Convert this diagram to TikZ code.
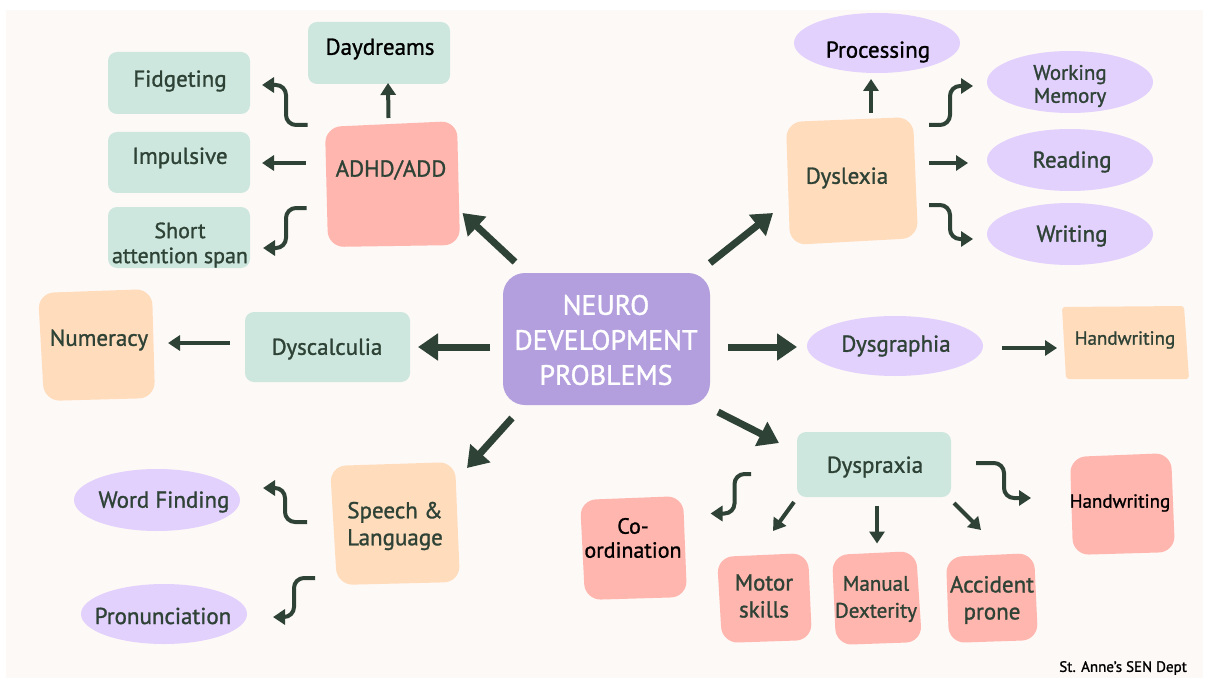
\documentclass[tikz,border=0pt]{standalone}
\usepackage{fontspec}
\setmainfont{PT Sans}[FakeBold=1.2]
\usetikzlibrary{arrows.meta,calc,shapes.geometric,fit}
\definecolor{bgc}{HTML}{FDF9F6}
\definecolor{mint}{HTML}{CDE7DF}
\definecolor{salm}{HTML}{FFB6AE}
\definecolor{peach}{HTML}{FFDCBC}
\definecolor{lav}{HTML}{E2D0FD}
\definecolor{cpur}{HTML}{B39FDD}
\definecolor{ink}{HTML}{2E4236}
% invisible named box + hand-drawn fill through four corners
\newcommand\wobbox[6]{%
  \fill[#2, rounded corners=16pt] #3 -- #4 -- #5 -- #6 -- cycle;
  \node[inner sep=0pt, fit={#3 #4 #5 #6}] (#1) {};}
\begin{document}
\begin{tikzpicture}[x=1pt,y=-1pt,
  mintbox/.style={fill=mint, rounded corners=9pt, inner sep=0pt},
  lavell/.style={fill=lav, ellipse, inner sep=0pt},
  lbl/.style={inner sep=0pt, text=ink, align=center, font=\fontsize{23}{26}\selectfont},
  bigarr/.style={draw=ink, line width=7pt, -{Triangle[length=20pt,width=26pt]}},
  smarr/.style={draw=ink, line width=4pt, rounded corners=10pt, -{Triangle[length=12pt,width=15pt]}}
]
\useasboundingbox (0,0) rectangle (1209,679);
\fill[white] (0,0) rectangle (1209,679);
\fill[bgc] (6,10) rectangle (1203,678);

% ---------- centre ----------
\node[fill=cpur, rounded corners=22pt, minimum width=207pt, minimum height=132pt] (cnt) at (606.5,339) {};
\node[lbl, text=white, font=\fontsize{28}{35}\selectfont] (cntt) at (606,340) {NEURO\\DEVELOPMENT\\PROBLEMS};

% ---------- ADHD ----------
\wobbox{adhd}{salm}{(325,127)}{(457,121)}{(460,245)}{(328,247)}
\node[lbl] (adhdt) at (391,170) {ADHD/ADD};
\node[mintbox, minimum width=142pt, minimum height=62pt] (day) at (379,53) {};
\node[lbl, text=black] (dayt) at (380,49) {Daydreams};
\node[mintbox, minimum width=142pt, minimum height=62pt] (fid) at (179,83) {};
\node[lbl] (fidt) at (180,81) {Fidgeting};
\node[mintbox, minimum width=142pt, minimum height=61pt] (imp) at (179,162.5) {};
\node[lbl] (impt) at (180,158) {Impulsive};
\node[mintbox, minimum width=142pt, minimum height=61pt] (sho) at (179,237.5) {};
\node[lbl, font=\fontsize{22}{25}\selectfont] (shot) at (180,245) {Short\\attention span};

% ---------- Dyslexia ----------
\wobbox{dyslex}{peach}{(786,122)}{(913,117)}{(918,238)}{(790,245)}
\node[lbl] (dyslext) at (847,178) {Dyslexia};
\node[lavell, minimum width=166pt, minimum height=60pt] (proc) at (877,43) {};
\node[lbl, text=black] (proct) at (878,52) {Processing};
\node[lavell, minimum width=166pt, minimum height=62pt] (wm) at (1070,82) {};
\node[lbl, font=\fontsize{21}{23}\selectfont] (wmt) at (1070,86) {Working\\Memory};
\node[lavell, minimum width=166pt, minimum height=62pt] (read) at (1070,160) {};
\node[lbl] (readt) at (1072,162) {Reading};
\node[lavell, minimum width=166pt, minimum height=62pt] (writ) at (1070,234) {};
\node[lbl] (writt) at (1072,236) {Writing};

% ---------- Dyscalculia ----------
\node[mintbox, minimum width=165pt, minimum height=70pt] (dysc) at (327.5,347) {};
\node[lbl] (dysct) at (327,349) {Dyscalculia};
\wobbox{num}{peach}{(38,293)}{(152,289)}{(155,398)}{(44,401)}
\node[lbl] (numt) at (99,340) {Numeracy};

% ---------- Dysgraphia ----------
\node[lavell, minimum width=176pt, minimum height=60pt] (dysg) at (895,346) {};
\node[lbl] (dysgt) at (896,346) {Dysgraphia};
\fill[peach, rounded corners=3pt] (1062,307) -- (1184,306) -- (1189,379) -- (1066,379) -- cycle;
\node[inner sep=0pt, minimum width=126pt, minimum height=72pt] (hwtr) at (1125.5,342.5) {};
\node[lbl, font=\fontsize{19}{22}\selectfont] (hwtrt) at (1125,340) {Handwriting};

% ---------- Speech ----------
\wobbox{spch}{peach}{(330,466)}{(455,462)}{(460,582)}{(337,585)}
\node[lbl, font=\fontsize{23}{27}\selectfont] (spcht) at (395,526) {Speech \&\\Language};
\node[lavell, minimum width=166pt, minimum height=62pt] (wf) at (157,500) {};
\node[lbl] (wft) at (164,502) {Word Finding};
\node[lavell, minimum width=166pt, minimum height=60pt] (pron) at (164,614) {};
\node[lbl] (pront) at (163,616) {Pronunciation};

% ---------- Dyspraxia ----------
\node[mintbox, minimum width=154pt, minimum height=65pt] (dyspx) at (874,464.5) {};
\node[lbl] (dyspxt) at (875,467) {Dyspraxia};
\wobbox{coord}{salm}{(580,500)}{(683,496)}{(687,597)}{(585,600)}
\node[lbl, text=black, font=\fontsize{22}{24}\selectfont] (coordt) at (633,538) {Co-\\ordination};
\wobbox{motor}{salm}{(717,557)}{(808,553)}{(812,640)}{(722,643)}
\node[lbl, font=\fontsize{23}{27}\selectfont] (motort) at (764,596) {Motor\\skills};
\wobbox{manual}{salm}{(832,555)}{(916,551)}{(922,642)}{(836,645)}
\node[lbl, font=\fontsize{21}{27}\selectfont] (manualt) at (876,599) {Manual\\Dexterity};
\wobbox{accid}{salm}{(946,557)}{(1034,553)}{(1038,640)}{(949,643)}
\node[lbl, font=\fontsize{23}{27}\selectfont] (accidt) at (992,600) {Accident\\prone};
\wobbox{hwdy}{salm}{(1070,457)}{(1171,453)}{(1175,552)}{(1073,555)}
\node[lbl, text=black, font=\fontsize{19}{22}\selectfont] (hwdyt) at (1120,503) {Handwriting};

\node[lbl, text=black, anchor=east, font=\fontsize{15}{18}\selectfont] (sten) at (1187,668) {St. Anne's SEN Dept};

% ---------- big arrows ----------
\draw[bigarr] ($(cnt)+(-91.5,-77)$) -- ($(adhd)+(70,29)$);
\draw[bigarr] ($(cnt)+(103.5,-76)$) -- ($(dyslex)+(-79,32)$);
\draw[bigarr] ($(cnt)+(-116.5,8)$) -- ($(dysc)+(90.5,0)$);
\draw[bigarr] ($(cnt)+(121.5,8)$) -- ($(dysg)+(-98,1)$);
\draw[bigarr] ($(cnt)+(-94.5,79)$) -- ($(spch)+(72,-55.5)$);
\draw[bigarr] ($(cnt)+(111.5,73)$) -- ($(dyspx)+(-95,-21.5)$);

% ---------- small arrows ----------
\draw[smarr] ($(adhd)+(-4,-66)$) -- ($(day)+(9,30)$);
\draw[smarr] ($(adhd)+(-85,-59)$) -| ($(fid)+(107,2)$) -- ($(fid)+(83,2)$);
\draw[smarr] ($(adhd)+(-87,-21)$) -- ($(imp)+(83,0.5)$);
\draw[smarr] ($(adhd)+(-86,24)$) -| ($(sho)+(107,10.5)$) -- ($(sho)+(84,10.5)$);

\draw[smarr] ($(dyslex)+(19,-68)$) -- ($(proc)+(-6,36)$);
\draw[smarr] ($(dyslex)+(77,-56)$) -| ($(wm)+(-120,4)$) -- ($(wm)+(-97,4)$);
\draw[smarr] ($(dyslex)+(77,-18)$) -- ($(read)+(-102,3)$);
\draw[smarr] ($(dyslex)+(77,24)$) -| ($(writ)+(-120,5)$) -- ($(writ)+(-97,5)$);

\draw[smarr] ($(dysc)+(-97.5,-4)$) -- ($(num)+(71.5,-2)$);

\draw[smarr] ($(spch)+(-88,-1.5)$) -| ($(wf)+(128,-12)$) -- ($(wf)+(106,-12)$);
\draw[smarr] ($(spch)+(-80,54.5)$) -| ($(pron)+(130,3)$) -- ($(pron)+(109,3)$);

\draw[smarr] ($(dysg)+(107,2)$) -- ($(hwtr)+(-68.5,5.5)$);

\draw[smarr] ($(dyspx)+(-123,9.5)$) -| ($(coord)+(101,-34.5)$) -- ($(coord)+(77,-34.5)$);
\draw[smarr] ($(dyspx)+(-80,37.5)$) -- ($(motor)+(8.5,-67)$);
\draw[smarr] ($(dyspx)+(3,41.5)$) -- ($(manual)+(0,-54.5)$);
\draw[smarr] ($(dyspx)+(80,38.5)$) -- ($(accid)+(-11,-68)$);
\draw[smarr] ($(dyspx)+(102,-1.5)$) -| ($(hwdy)+(-118.5,-6)$) -- ($(hwdy)+(-91.5,-6)$);
\end{tikzpicture}
\end{document}
